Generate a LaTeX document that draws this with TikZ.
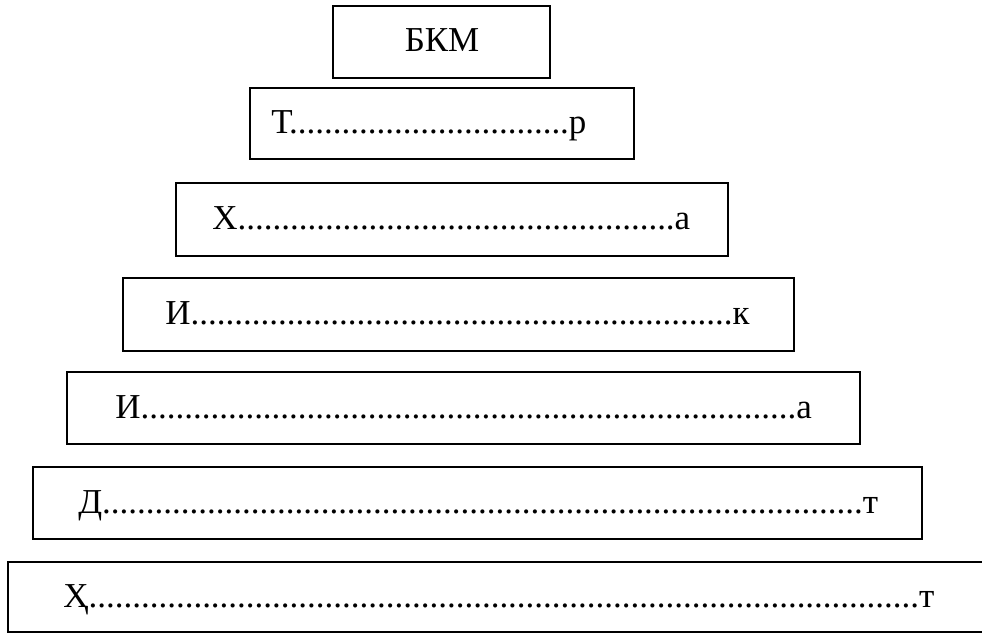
\documentclass[tikz,border=0pt]{standalone}
\usepackage{fontspec}
\setmainfont{Liberation Serif}
\newfontfamily\tierfont{Liberation Serif}
\usepackage{tikz}
\newcommand{\dotrun}[1]{\foreach \k in {1,...,#1}{.}}
\tikzset{tier/.style={line width=1.1pt},
  word/.style={inner sep=0pt, font=\tierfont\fontsize{19.9}{24}\selectfont}}

\begin{document}
\begin{tikzpicture}

  \clip (0,0) rectangle (19.64,12.66);
  % boxes, top to bottom
  \draw [tier] (6.66,11.10) rectangle (11.00,12.54);
  \draw [tier] (5.00,9.48) rectangle (12.68,10.90);
  \draw [tier] (3.52,7.54) rectangle (14.56,9.00);
  \draw [tier] (2.46,5.64) rectangle (15.88,7.10);
  \draw [tier] (1.34,3.78) rectangle (17.20,5.22);
  \draw [tier] (0.66,1.88) rectangle (18.44,3.32);
  \draw [tier] (0.16,0.02) rectangle (20.50,1.42);
  % texts
  \node [word, anchor=base] (bkm) at (8.84,11.62) {БКМ};
  \node [word, anchor=base west] (tr) at (5.42,10.00) {Т\dotrun{32}р};
  \node [word, anchor=base west] (xa) at (4.24,8.08) {Х\dotrun{50}а};
  \node [word, anchor=base west] (ik) at (3.30,6.18) {И\dotrun{62}к};
  \node [word, anchor=base west] (ia) at (2.30,4.30) {И\dotrun{75}а};
  \node [word, anchor=base west] (dt) at (1.56,2.40) {Д\dotrun{87}т};
  \node [word, anchor=base west] (ht) at (1.26,0.52) {Ҳ\dotrun{95}т};
\end{tikzpicture}
\end{document}
